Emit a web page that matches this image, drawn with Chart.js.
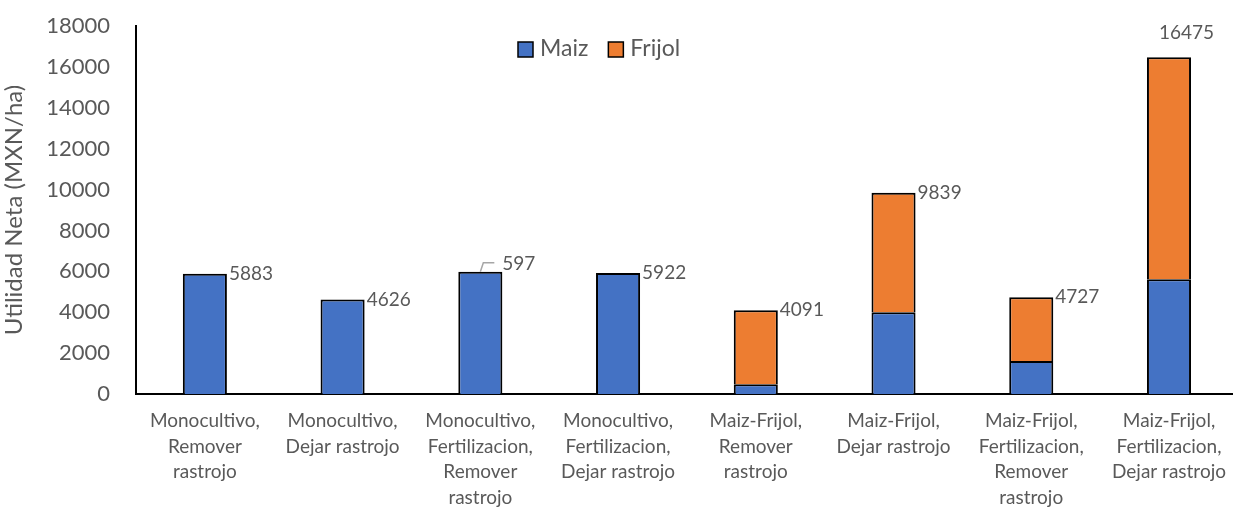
<!DOCTYPE html>
<html>
<head>
<meta charset="utf-8">
<script src="https://cdn.jsdelivr.net/npm/chart.js@4"></script>
<style>
  html, body { margin: 0; padding: 0; background: #fff; overflow: hidden; }
  #wrap { width: 1240px; height: 508px; }
</style>
</head>
<body>
<div id="wrap"><canvas id="myChart"></canvas></div>
<script>
var categories = [
    ['Monocultivo,', 'Remover', 'rastrojo'],
    ['Monocultivo,', 'Dejar rastrojo'],
    ['Monocultivo,', 'Fertilizacion,', 'Remover', 'rastrojo'],
    ['Monocultivo,', 'Fertilizacion,', 'Dejar rastrojo'],
    ['Maiz-Frijol,', 'Remover', 'rastrojo'],
    ['Maiz-Frijol,', 'Dejar rastrojo'],
    ['Maiz-Frijol,', 'Fertilizacion,', 'Remover', 'rastrojo'],
    ['Maiz-Frijol,', 'Fertilizacion,', 'Dejar rastrojo']
];
var maiz = [5883, 4626, 5975, 5922, 480, 4000, 1620, 5610];
var frijol = [0, 0, 0, 0, 3611, 5839, 3107, 10865];
var totalLabels = ['5883', '4626', '597', '5922', '4091', '9839', '4727', '16475'];
var yTicks = [0, 2000, 4000, 6000, 8000, 10000, 12000, 14000, 16000, 18000];

var FONT = 'Lato, "Liberation Sans", sans-serif';
var GREY = '#595959';

// totals at the right of each bar top, plus the two moved ones
var totalsPlugin = {
    id: 'totals',
    afterDatasetsDraw: function (chart) {
        var c = chart.ctx;
        var m0 = chart.getDatasetMeta(0).data;
        var m1 = chart.getDatasetMeta(1).data;
        c.save();
        c.font = '19px ' + FONT;
        c.fillStyle = GREY;
        c.textBaseline = 'middle';
        c.textAlign = 'left';
        for (var i = 0; i < totalLabels.length; i++) {
            var bar = frijol[i] > 0 ? m1[i] : m0[i];
            var right = bar.x + bar.width / 2;
            var tx = right + 2, ty = bar.y;
            if (i === 2) {
                // label dragged up with a leader line
                c.strokeStyle = '#a6a6a6';
                c.lineWidth = 1.5;
                c.beginPath();
                c.moveTo(bar.x, bar.y);
                c.lineTo(bar.x + 3, bar.y - 9);
                c.lineTo(bar.x + 14, bar.y - 9);
                c.stroke();
                tx = bar.x + 22;
                ty = bar.y - 8;
            }
            if (i === 7) {
                tx = bar.x - 10;
                ty = bar.y - 24;
            }
            c.fillText(totalLabels[i], tx, ty);
        }
        c.restore();
    }
};

// legend sitting inside the plot, top centre
var legendPlugin = {
    id: 'innerLegend',
    afterDraw: function (chart) {
        var c = chart.ctx;
        var items = [['Maiz', '#4472C4'], ['Frijol', '#ED7D31']];
        var x = 518, y = 49;
        c.save();
        c.font = '23px ' + FONT;
        c.textBaseline = 'middle';
        items.forEach(function (it) {
            c.fillStyle = it[1];
            c.fillRect(x, y - 7, 15, 15);
            c.strokeStyle = '#000';
            c.lineWidth = 1.5;
            c.strokeRect(x, y - 7, 15, 15);
            c.fillStyle = GREY;
            c.fillText(it[0], x + 22, y);
            x += 22 + c.measureText(it[0]).width + 20;
        });
        c.restore();
    }
};

var ctx = document.getElementById('myChart').getContext('2d');
var chart = new Chart(ctx, {
    type: 'bar',
    data: {
        labels: categories,
        datasets: [
            {
                label: 'Maiz',
                data: maiz,
                backgroundColor: '#4472C4',
                borderColor: '#000',
                borderWidth: 2,
                barPercentage: 0.32,
                categoryPercentage: 1
            },
            {
                label: 'Frijol',
                data: frijol,
                backgroundColor: '#ED7D31',
                borderColor: '#000',
                borderWidth: 2,
                barPercentage: 0.32,
                categoryPercentage: 1
            }
        ]
    },
    options: {
        responsive: true,
        maintainAspectRatio: false,
        animation: false,
        layout: { padding: { top: 26, right: 0, left: 0, bottom: 0 } },
        plugins: {
            legend: { display: false },
            tooltip: { enabled: false }
        },
        scales: {
            x: {
                stacked: true,
                grid: { display: false, drawTicks: false },
                border: { color: '#000', width: 2 },
                ticks: {
                    color: GREY,
                    font: { family: FONT, size: 19, lineHeight: 1.35 },
                    padding: 14,
                    maxRotation: 0,
                    autoSkip: false
                },
                afterFit: function (s) { s.height = 114; }
            },
            y: {
                stacked: true,
                min: 0,
                max: 18000,
                grid: { display: false, drawTicks: true, tickLength: 24 },
                border: { color: '#000', width: 2 },
                afterBuildTicks: function (s) {
                    s.ticks = yTicks.map(function (v) { return { value: v }; });
                },
                ticks: {
                    color: GREY,
                    font: { family: FONT, size: 22 },
                    padding: 2,
                    callback: function (v) { return String(v); }
                },
                title: {
                    display: true,
                    text: 'Utilidad Neta (MXN/ha)',
                    color: GREY,
                    font: { family: FONT, size: 24 },
                    padding: { top: 0, bottom: 0 }
                },
                afterFit: function (s) { s.width = 136; }
            }
        }
    },
    plugins: [totalsPlugin, legendPlugin]
});
</script>
</body>
</html>
